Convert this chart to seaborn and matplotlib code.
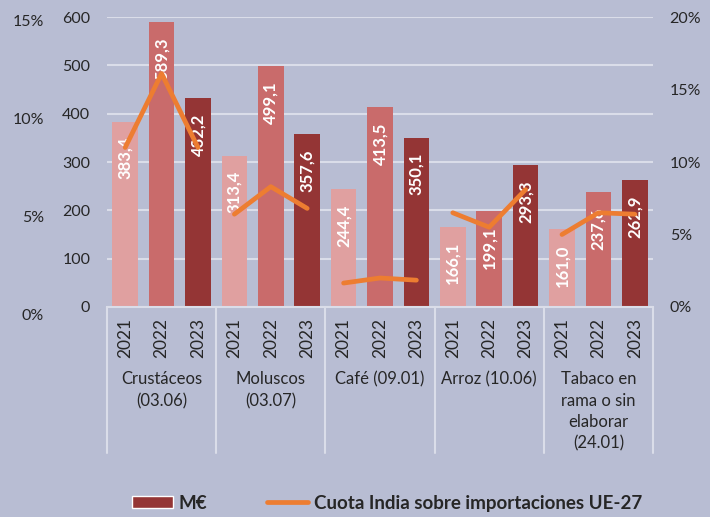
import matplotlib
matplotlib.use("Agg")
import matplotlib.pyplot as plt
from matplotlib.patches import Patch
from matplotlib.lines import Line2D
from matplotlib.transforms import blended_transform_factory
import numpy as np
import pandas as pd
import seaborn as sns

# %% data
categories = ["Crustáceos\n(03.06)", "Moluscos\n(03.07)", "Café (09.01)",
              "Arroz (10.06)", "Tabaco en\nrama o sin\nelaborar\n(24.01)"]
years = ["2021", "2022", "2023"]
values_meur = [383.4, 589.3, 432.2,
               313.4, 499.1, 357.6,
               244.4, 413.5, 350.1,
               166.1, 199.1, 293.3,
               161.0, 237.6, 262.9]
india_share = [11.0, 16.1, 11.0,
               6.4, 8.3, 6.8,
               1.65, 2.0, 1.85,
               6.5, 5.5, 8.1,
               5.0, 6.5, 6.4]
left_pct_ticks = [0, 5, 10, 15]
right_pct_ticks = [0, 5, 10, 15, 20]

bg = "#b8bdd3"
grid_c = "#dadde9"
bar_colors = {"2021": "#e0a0a0", "2022": "#c96b6b", "2023": "#943535"}
orange = "#ed7d31"

n_years = len(years)
df = pd.DataFrame({
    "pos": np.arange(len(values_meur)),
    "value": values_meur,
    "share": india_share,
    "year": years * len(categories),
    "cat": np.repeat(np.arange(len(categories)), n_years),
})

# %% figure
sns.set_style("white")
plt.rcParams["font.family"] = ["Lato", "DejaVu Sans"]

fig = plt.figure(figsize=(7.1, 5.17), dpi=100, facecolor=bg)
ax = fig.add_axes([0.1507, 0.4062, 0.769, 0.5609])
ax.set_facecolor(bg)

sns.barplot(data=df, x="pos", y="value", hue="year", palette=bar_colors,
            dodge=False, width=0.7, native_scale=True, legend=False, ax=ax,
            saturation=1, linewidth=0, zorder=2)

ax.set_ylim(0, 600)
ax.set_xlim(-0.5, len(values_meur) - 0.5)
ax.set_yticks(range(0, 601, 100))
ax.grid(axis="y", color=grid_c, lw=1.5, zorder=0)
ax.set_axisbelow(True)
for s in ["top", "left", "right"]:
    ax.spines[s].set_visible(False)
ax.spines["bottom"].set_color(grid_c)
ax.spines["bottom"].set_linewidth(1.5)
ax.set_xticks(df["pos"])
ax.set_xticklabels(df["year"], rotation=90, fontsize=12.5)
ax.tick_params(axis="x", length=0, pad=8)
ax.tick_params(axis="y", length=0, pad=12, labelsize=11.5)
ax.set_xlabel("")
ax.set_ylabel("")

# value labels inside bars
for p, v in zip(df["pos"], df["value"]):
    ax.annotate(f"{v:.1f}".replace(".", ","), (p, v), xytext=(0, -11),
                textcoords="offset points", rotation=90, ha="center", va="top",
                color="white", fontsize=12, fontweight="bold", zorder=3)

# group separators and category labels
trans = ax.get_xaxis_transform()
for i in range(len(categories) + 1):
    x = i * n_years - 0.5
    ax.plot([x, x], [0, -0.505], transform=trans, color=grid_c, lw=1.5,
            clip_on=False)
for i, c in enumerate(categories):
    ax.text(i * n_years + 1, -0.222, c, transform=trans, ha="center",
            va="top", fontsize=12, linespacing=1.42)

# india share (right axis)
ax2 = ax.twinx()
sns.lineplot(data=df, x="pos", y="share", units="cat", estimator=None,
             color=orange, lw=3.4, ax=ax2, solid_capstyle="round")
ax2.set_ylim(0, 20)
ax2.set_yticks(right_pct_ticks)
ax2.set_yticklabels([f"{t}%" for t in right_pct_ticks])
ax2.tick_params(axis="y", length=0, pad=12, labelsize=11.5)
ax2.set_ylabel("")
for s in ax2.spines.values():
    s.set_visible(False)

# outer left percentage scale (offset from the bar axis)
ax3 = ax.twinx()
ax3.set_ylim(0.46, 15.26)
ax3.axis("off")
t3 = blended_transform_factory(ax.transAxes, ax3.transData)
for t in left_pct_ticks:
    ax3.text(-0.115, t, f"{t}%", transform=t3, ha="right", va="center",
             fontsize=11.5, clip_on=False)

# legend
handles = [Patch(facecolor=bar_colors["2023"]),
           Line2D([0], [0], color=orange, lw=3.4)]
leg = fig.legend(handles, ["M€", "Cuota India sobre importaciones UE-27"],
                 loc="center", bbox_to_anchor=(0.545, 0.027), ncol=2,
                 frameon=False, prop={"weight": "bold", "size": 13.5},
                 handlelength=2.2, handleheight=0.55, columnspacing=3.2,
                 handletextpad=0.3)

fig.savefig("out.png", dpi=100, facecolor=bg)
